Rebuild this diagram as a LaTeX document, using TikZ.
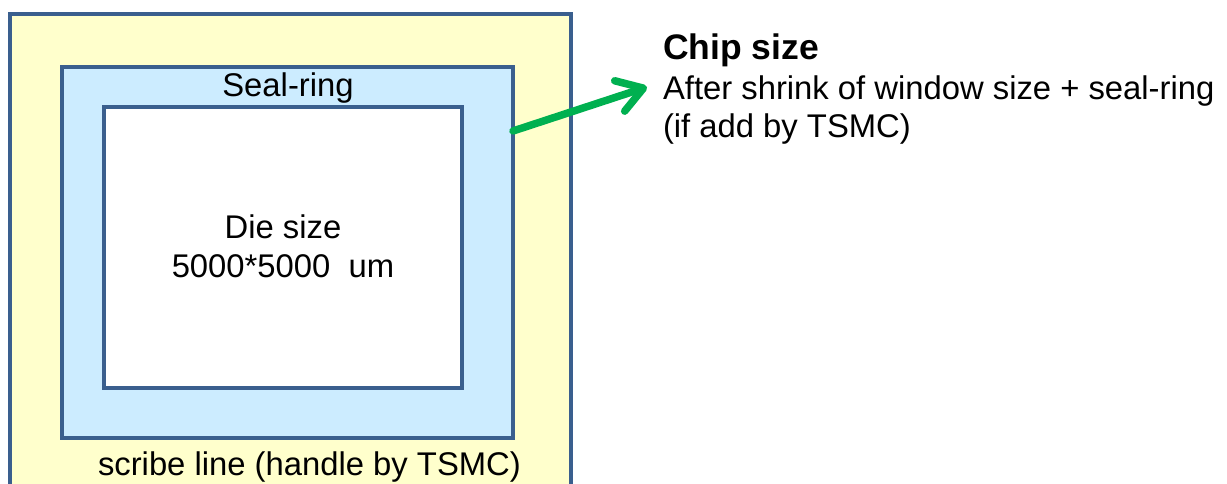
\documentclass[tikz,border=0pt]{standalone}
\usepackage{fontspec}
\setmainfont{Liberation Sans}
\usetikzlibrary{arrows.meta}
\definecolor{edgeblue}{HTML}{3A5F8E}
\definecolor{paleyellow}{HTML}{FFFFCC}
\definecolor{paleblue}{HTML}{CCECFF}
\definecolor{arrowgreen}{HTML}{00B050}
\begin{document}
\begin{tikzpicture}[x=1pt,y=-1pt,
  box/.style={draw=edgeblue, line width=4pt, inner sep=0pt, outer sep=0pt},
  lbl/.style={inner sep=0pt, outer sep=0pt, font=\fontsize{32.8}{39}\selectfont},
  ptr/.style={draw=arrowgreen, line width=7.5pt, line cap=round, line join=round,
    -{Straight Barb[length=25pt,width=32pt,round]}}]
\path[use as bounding box] (0,0) rectangle (1227,484);
\clip (0,0) rectangle (1227,484);
\fill[white] (0,0) rectangle (1227,484);
% outer scribe-line frame
\node[box, fill=paleyellow, minimum width=561pt, minimum height=540pt, anchor=north west] (outer) at (10,14) {};
% seal-ring
\node[box, fill=paleblue, minimum width=451.5pt, minimum height=371pt, anchor=north west] (seal) at (61.5,67) {};
% die
\node[box, fill=white, minimum width=358pt, minimum height=280.5pt, anchor=north west] (die) at (104,107.5) {};
% labels
\node[lbl, anchor=base] (sealtxt) at (288,96.7) {Seal-ring};
\node[lbl, anchor=base] (dietxt1) at (283,238) {Die size};
\node[lbl, anchor=base] (dietxt2) at (283,277) {5000*5000\ \ um};
\node[lbl, anchor=base west] (scribe) at (98,475) {scribe line (handle by TSMC)};
\node[lbl, anchor=base west, font=\fontsize{35.5}{42}\selectfont\bfseries] (chip) at (663,60) {Chip size};
\node[lbl, anchor=base west] (after) at (663,100) {After shrink of window size + seal-ring};
\node[lbl, anchor=base west] (ifadd) at (663,138) {(if add by TSMC)};
% arrow
\coordinate (tip) at (647,87);
\draw[ptr] ([yshift=-64pt]seal.north east) -- (tip);
\end{tikzpicture}
\end{document}
